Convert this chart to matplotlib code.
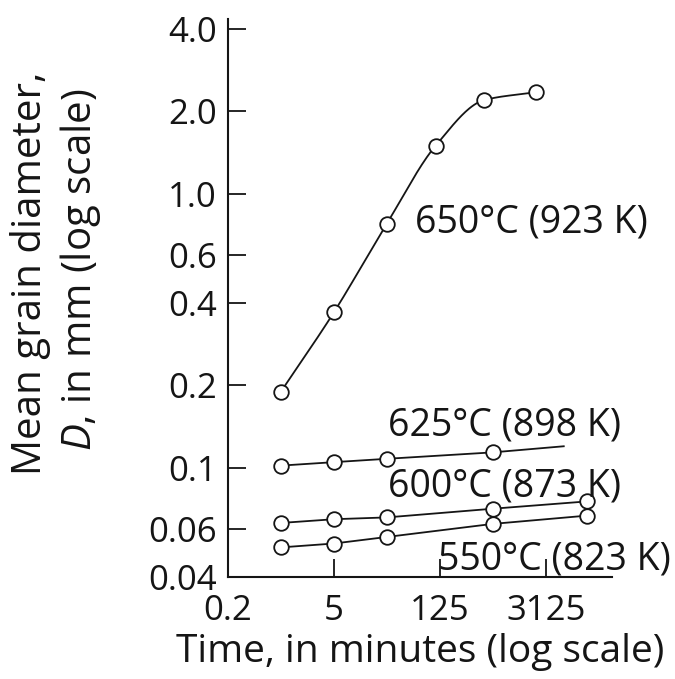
import numpy as np
import matplotlib
matplotlib.use("Agg")
import matplotlib.pyplot as plt

plt.rcParams['font.family'] = ['Open Sans', 'DejaVu Sans']
plt.rcParams['mathtext.fontset'] = 'custom'
plt.rcParams['mathtext.it'] = 'Open Sans:italic'

# annealing time (min) and mean grain diameter (mm) for each temperature
t_650 = [1, 5, 25, 110, 480, 2300]
d_650 = [0.19, 0.37, 0.78, 1.5, 2.2, 2.35]

t_625 = [1, 5, 25, 625]
d_625 = [0.102, 0.105, 0.108, 0.114]
t_625_end = 5400
d_625_end = 0.12

t_600 = [1, 5, 25, 625, 11000]
d_600 = [0.063, 0.065, 0.066, 0.071, 0.0755]

t_550 = [1, 5, 25, 625, 11000]
d_550 = [0.0513, 0.053, 0.056, 0.0625, 0.067]

labels = ['650°C (923 K)', '625°C (898 K)', '600°C (873 K)', '550°C (823 K)']

xticks = [0.2, 5, 125, 3125]
xtick_labels = ['0.2', '5', '125', '3125']
yticks = [0.04, 0.06, 0.1, 0.2, 0.4, 0.6, 1.0, 2.0, 4.0]
ytick_labels = ['0.04', '0.06', '0.1', '0.2', '0.4', '0.6', '1.0', '2.0', '4.0']


def pchip_loglog(x, y, n=40):
    # monotone cubic through the points, done in log-log space
    lx, ly = np.log10(x), np.log10(y)
    h = np.diff(lx)
    delta = np.diff(ly) / h
    m = np.zeros_like(lx)
    m[0], m[-1] = delta[0], delta[-1]
    for i in range(1, len(lx) - 1):
        if delta[i - 1] * delta[i] > 0:
            w1 = 2 * h[i] + h[i - 1]
            w2 = h[i] + 2 * h[i - 1]
            m[i] = (w1 + w2) / (w1 / delta[i - 1] + w2 / delta[i])
    ox, oy = [], []
    for i in range(len(lx) - 1):
        s = np.linspace(0, 1, n)
        h00 = 2 * s**3 - 3 * s**2 + 1
        h10 = s**3 - 2 * s**2 + s
        h01 = -2 * s**3 + 3 * s**2
        h11 = s**3 - s**2
        ox.extend(lx[i] + s * h[i])
        oy.extend(h00 * ly[i] + h10 * h[i] * m[i] + h01 * ly[i + 1] + h11 * h[i] * m[i + 1])
    return 10 ** np.array(ox), 10 ** np.array(oy)


fig = plt.figure(figsize=(6.75, 6.79), dpi=100)
ax = fig.add_axes([228 / 675, 1 - 577 / 679, (612 - 228) / 675, (577 - 19) / 679])

ink = '#151515'
line_kw = dict(color=ink, lw=1.3)
mark_kw = dict(ls='none', marker='o', ms=10.5, mfc='white', mec=ink, mew=1.3)

sx, sy = pchip_loglog(t_650, d_650)
ax.plot(sx, sy, **line_kw)
ax.plot(t_650, d_650, **mark_kw)

ax.plot(t_625 + [t_625_end], d_625 + [d_625_end], **line_kw)
ax.plot(t_625, d_625, **mark_kw)

ax.plot(t_600, d_600, **line_kw)
ax.plot(t_600, d_600, **mark_kw)
ax.plot(t_550, d_550, **line_kw)
ax.plot(t_550, d_550, **mark_kw)

ax.set_xscale('log')
ax.set_yscale('log')
ax.set_xlim(0.2, 23400)
ax.set_ylim(0.04, 4.35)
ax.minorticks_off()
ax.set_xticks(xticks)
ax.set_xticklabels(xtick_labels)
ax.set_yticks(yticks)
ax.set_yticklabels(ytick_labels)
ax.tick_params(direction='in', length=13, width=1.3, labelsize=25, colors=ink)
ax.tick_params(axis='x', pad=12)
ax.tick_params(axis='y', pad=8)

for side in ['top', 'right']:
    ax.spines[side].set_visible(False)
for side in ['left', 'bottom']:
    ax.spines[side].set_linewidth(1.5)
    ax.spines[side].set_color(ink)

ax.text(59, 0.79, labels[0], fontsize=27, va='center', ha='left', color=ink)
ax.text(26, 0.143, labels[1], fontsize=27, va='center', ha='left', color=ink)
ax.text(26, 0.0855, labels[2], fontsize=27, va='center', ha='left', color=ink)
ax.text(118, 0.0465, labels[3], fontsize=27, va='center', ha='left', color=ink)

fig.text(420 / 675, 1 - 652 / 679, 'Time, in minutes (log scale)', fontsize=28,
         ha='center', va='center', color=ink)
fig.text(31 / 675, 1 - 273 / 679, 'Mean grain diameter,', fontsize=29, rotation=90,
         ha='center', va='center', color=ink)
fig.text(81 / 675, 1 - 270 / 679, '$D$, in mm (log scale)', fontsize=29, rotation=90,
         ha='center', va='center', color=ink)

fig.savefig('out.png', dpi=100)
